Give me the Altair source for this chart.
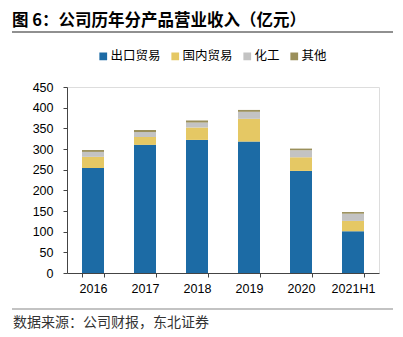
import altair as alt
import pandas as pd

years = ["2016", "2017", "2018", "2019", "2020", "2021H1"]
series = ["出口贸易", "国内贸易", "化工", "其他"]
export_trade = [254, 310, 322, 318, 247, 101]
domestic_trade = [27, 19, 30, 55, 33, 25]
chemical = [12, 12, 12, 17, 17, 17.5]
other = [4.5, 5, 5, 4.5, 4, 4]
colors = ["#1C6BA5", "#E5C864", "#C3C3C3", "#9A8F5B"]
y_ticks = [0, 50, 100, 150, 200, 250, 300, 350, 400, 450]

rows = []
for i, y in enumerate(years):
    for k, (name, vals) in enumerate(zip(series, [export_trade, domestic_trade, chemical, other])):
        rows.append({"year": y, "series": name, "value": vals[i], "ord": k})
df = pd.DataFrame(rows)

FONT = "Liberation Sans"
CJK = "Noto Sans CJK SC"

bars = alt.Chart(df).mark_bar(size=22).encode(
    x=alt.X("year:N", sort=years, title=None,
            scale=alt.Scale(paddingInner=0.58, paddingOuter=0.29),
            axis=alt.Axis(labelAngle=0, labelFont=FONT, labelFontSize=12.5, labelColor="#000",
                          domainColor="#444", tickColor="#444", tickSize=4, tickBand="extent",
                          labelPadding=5, grid=False)),
    y=alt.Y("value:Q", stack="zero", title=None,
            scale=alt.Scale(domain=[0, 450], nice=False),
            axis=alt.Axis(values=y_ticks, labelFont=FONT, labelFontSize=12.5, labelColor="#000",
                          domainColor="#444", tickColor="#444", tickSize=4, labelPadding=10,
                          grid=False)),
    color=alt.Color("series:N", sort=series,
                    scale=alt.Scale(domain=series, range=colors),
                    legend=alt.Legend(title=None, orient="none", direction="horizontal",
                                      legendX=30, legendY=-37, symbolType="square",
                                      symbolSize=60, symbolStrokeWidth=0,
                                      labelFont=CJK, labelFontSize=12.5, labelColor="#000",
                                      columnPadding=8, symbolOffset=0, labelOffset=1)),
    order=alt.Order("ord:Q", sort="ascending"),
)

title = alt.Chart(pd.DataFrame({"t": ["图 6：公司历年分产品营业收入（亿元）"]})).mark_text(
    align="left", baseline="middle", font=CJK, fontSize=16.5, fontWeight="bold", color="#000"
).encode(x=alt.value(-55), y=alt.value(-66), text="t:N")

source = alt.Chart(pd.DataFrame({"t": ["数据来源：公司财报，东北证券"]})).mark_text(
    align="left", baseline="middle", font=CJK, fontSize=14, color="#333"
).encode(x=alt.value(-54), y=alt.value(236), text="t:N")

top_line = alt.Chart(pd.DataFrame({"a": [0]})).mark_rule(color="#222", strokeWidth=1.2).encode(
    x=alt.value(-55), x2=alt.value(326), y=alt.value(-55))
bottom_line = alt.Chart(pd.DataFrame({"a": [0]})).mark_rule(color="#888", strokeWidth=1.2).encode(
    x=alt.value(-55), x2=alt.value(326), y=alt.value(222))

chart = alt.layer(bars, title, source, top_line, bottom_line).properties(
    width=312, height=186,
    autosize=alt.AutoSizeParams(type="none"),
    padding={"left": 67, "top": 87, "right": 24, "bottom": 64},
).configure_view(stroke=None).configure(background="white")

chart.save("out.html", embed_options={"renderer": "svg", "actions": False})
